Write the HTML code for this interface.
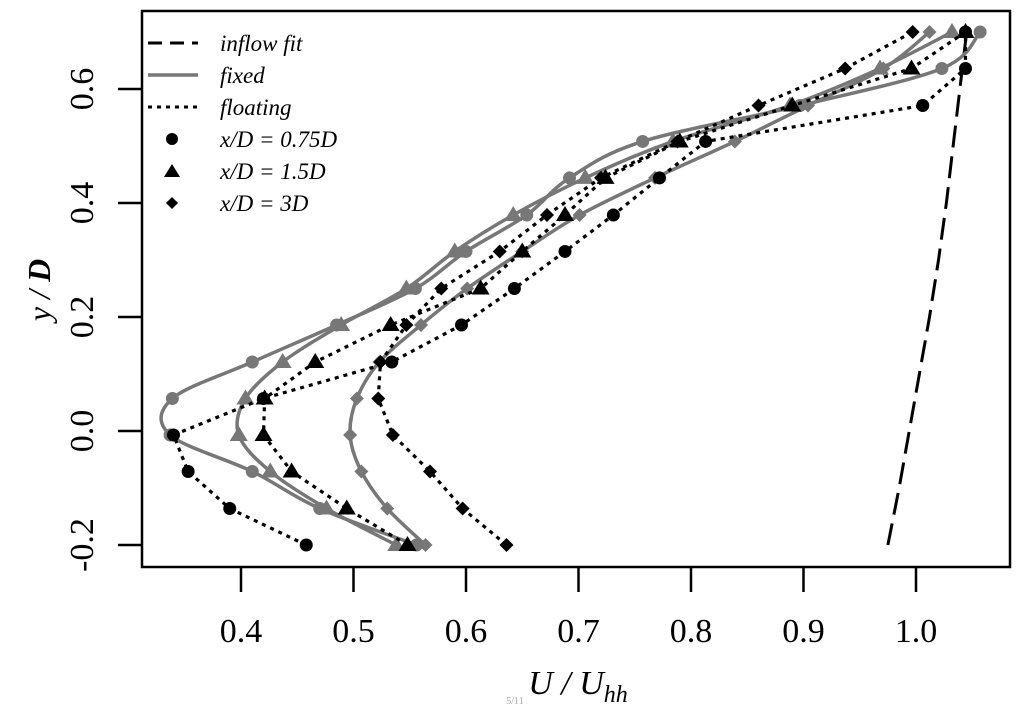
<!DOCTYPE html>
<html><head><meta charset="utf-8"><style>
body{margin:0;background:#fff}
svg{display:block;font-family:"Liberation Serif",serif}
</style></head><body>
<svg id="chart" width="1024" height="706" viewBox="0 0 1024 706" xmlns="http://www.w3.org/2000/svg">
<rect x="142" y="11" width="868" height="556" fill="none" stroke="#000" stroke-width="2.5"/>
<g id="axes"></g>
<g id="marks"></g>
<g font-style="italic" font-size="23">
<line x1="148" y1="43" x2="198" y2="43" stroke="#000" stroke-width="3" stroke-dasharray="14,8"/>
<text x="220" y="51">inflow fit</text>
<line x1="148" y1="75" x2="198" y2="75" stroke="#777" stroke-width="3.5"/>
<text x="220" y="83">fixed</text>
<line x1="148" y1="107" x2="198" y2="107" stroke="#000" stroke-width="3" stroke-dasharray="4,5"/>
<text x="220" y="115">floating</text>
<circle cx="172" cy="139" r="6"/>
<text x="220" y="147">x/D = 0.75D</text>
<polygon points="172,164 180,177 164,177"/>
<text x="220" y="179">x/D = 1.5D</text>
<polygon points="172,197 178,203 172,209 166,203"/>
<text x="220" y="211">x/D = 3D</text>
</g>
<text transform="translate(50,290) rotate(-90)" text-anchor="middle" font-size="32" font-style="italic">y / <tspan font-weight="bold">D</tspan></text>
<text x="578" y="694" text-anchor="middle" font-size="34" font-style="italic">U / U<tspan font-size="24" dy="8">hh</tspan></text>
<text x="515" y="704" text-anchor="middle" font-size="10" fill="#aaa">5/11</text>
</svg>
<script>
const levels=[-0.2,-0.136,-0.071,-0.007,0.057,0.121,0.186,0.25,0.315,0.379,0.444,0.508,0.571,0.636,0.7];
const fixed075=[0.556,0.47,0.41,0.337,0.339,0.41,0.485,0.555,0.60,0.654,0.692,0.757,0.897,1.023,1.057];
const float075=[0.458,0.39,0.353,0.34,0.42,0.534,0.596,0.643,0.688,0.731,0.772,0.813,1.006,1.044,1.044];
const fixed15=[0.538,0.476,0.426,0.398,0.404,0.437,0.489,0.547,0.59,0.642,0.706,0.784,0.888,0.968,1.032];
const float15=[0.548,0.494,0.445,0.42,0.421,0.466,0.533,0.613,0.65,0.688,0.724,0.79,0.89,0.996,1.044];
const fixed3=[0.564,0.53,0.507,0.497,0.503,0.523,0.56,0.601,0.65,0.701,0.768,0.839,0.904,0.971,1.012];
const float3=[0.636,0.597,0.568,0.535,0.522,0.524,0.547,0.578,0.63,0.672,0.72,0.788,0.86,0.937,0.997];
const inflowY=[-0.2,-0.1,0,0.1,0.2,0.3,0.4,0.5,0.6,0.7];
const inflowX=[0.975,0.985,0.994,1.003,1.012,1.02,1.027,1.033,1.039,1.045];
const xTicks=[0.4,0.5,0.6,0.7,0.8,0.9,1.0];
const yTicks=[-0.2,0.0,0.2,0.4,0.6];
const xTickLabels=["0.4","0.5","0.6","0.7","0.8","0.9","1.0"];
const yTickLabels=["-0.2","0.0","0.2","0.4","0.6"];

const X=v=>241+(v-0.4)*1125;
const Y=v=>431-v*570;
const NS="http://www.w3.org/2000/svg";
const axes=document.getElementById('axes'), marks=document.getElementById('marks');
function mk(tag,attrs,parent){const e=document.createElementNS(NS,tag);for(const k in attrs)e.setAttribute(k,attrs[k]);parent.appendChild(e);return e;}

xTicks.forEach((t,i)=>{
  const l=mk('line',{x1:X(t),x2:X(t),y1:567,y2:592,stroke:'#000','stroke-width':2.5},axes);
  
  
  const tx=mk('text',{x:X(t),y:642,'text-anchor':'middle','font-size':34},axes);
  tx.textContent=xTickLabels[i];
  
  
});
yTicks.forEach((t,i)=>{
  const l=mk('line',{x1:118,x2:142,y1:Y(t),y2:Y(t),stroke:'#000','stroke-width':2.5},axes);
  
  
  const tx=mk('text',{transform:`translate(93,${Y(t)}) rotate(-90)`,'text-anchor':'middle','font-size':34},axes);
  tx.textContent=yTickLabels[i];
  
  
});

function smoothPath(pts){
  let d=`M${pts[0][0]},${pts[0][1]}`;
  for(let i=0;i<pts.length-1;i++){
    const p0=pts[i-1]||pts[i],p1=pts[i],p2=pts[i+1],p3=pts[i+2]||p2;
    const c1=[p1[0]+(p2[0]-p0[0])/6,p1[1]+(p2[1]-p0[1])/6];
    const c2=[p2[0]-(p3[0]-p1[0])/6,p2[1]-(p3[1]-p1[1])/6];
    d+=` C${c1[0]},${c1[1]} ${c2[0]},${c2[1]} ${p2[0]},${p2[1]}`;
  }
  return d;
}
function marker(type,x,y,color,name){
  let e;
  if(type==='circle') e=mk('circle',{cx:x,cy:y,r:6.5,fill:color},marks);
  else if(type==='triangle') e=mk('polygon',{points:`${x},${y-9} ${x+9},${y+6} ${x-9},${y+6}`,fill:color},marks);
  else e=mk('polygon',{points:`${x},${y-7} ${x+7},${y} ${x},${y+7} ${x-7},${y}`,fill:color},marks);
  
  
}
function series(vals,fixed,type,name){
  const pts=vals.map((v,i)=>[X(v),Y(levels[i])]);
  const p=mk('path',{d:fixed?smoothPath(pts):'M'+pts.map(p=>p.join(',')).join(' L'),fill:'none',
    stroke:fixed?'#777':'#000','stroke-width':fixed?3.5:3.2,'stroke-dasharray':fixed?'none':'4,5'},marks);
  
  
  pts.forEach(q=>marker(type,q[0],q[1],fixed?'#777':'#000',name+'-point'));
}
const inf=mk('path',{d:'M'+inflowX.map((v,i)=>X(v)+','+Y(inflowY[i])).join(' L'),fill:'none',stroke:'#000','stroke-width':3,'stroke-dasharray':'22,9'},marks);


series(fixed3,true,'diamond','fixed-3d');
series(fixed15,true,'triangle','fixed-1-5d');
series(fixed075,true,'circle','fixed-0-75d');
series(float3,false,'diamond','floating-3d');
series(float15,false,'triangle','floating-1-5d');
series(float075,false,'circle','floating-0-75d');
</script>
</body></html>
